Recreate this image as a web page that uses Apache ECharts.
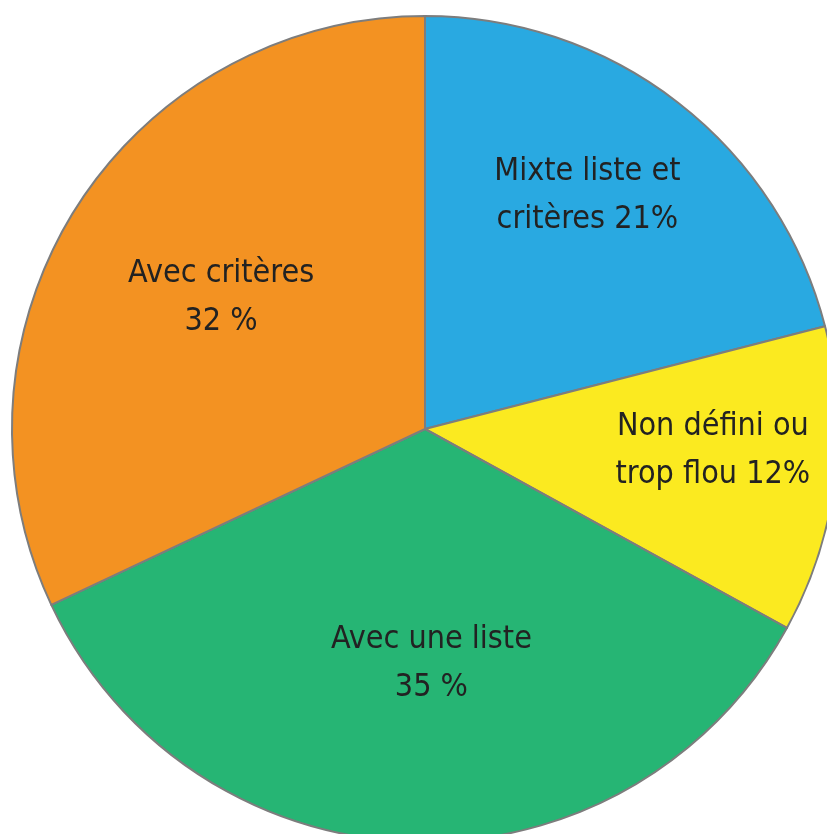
<!DOCTYPE html>
<html>
<head>
<meta charset="utf-8">
<script src="https://cdn.jsdelivr.net/npm/echarts@6/dist/echarts.min.js"></script>
<style>
  html, body { margin: 0; padding: 0; background: #ffffff; }
  #chart { width: 827px; height: 834px; }
</style>
</head>
<body>
<div id="chart"></div>
<script>
// données du camembert (sens horaire à partir de midi)
var categories = ['Mixte liste et\ncritères 21%', 'Non défini ou\ntrop flou 12%', 'Avec une liste\n35 %', 'Avec critères\n32 %'];
var values = [21, 12, 35, 32];
var colors = ['#29A9E1', '#FBEA20', '#26B574', '#F39222'];

// décalage des étiquettes par rapport à la position "inside"
var labelShift = [[34, -68], [80, -5], [13, 25], [-27, -19]];

var myChart = echarts.init(document.getElementById('chart'));

var pieData = [];
for (var i = 0; i < values.length; i++) {
    pieData.push({ name: categories[i], value: values[i], itemStyle: { color: colors[i] } });
}

var option = {
    animation: false,
    backgroundColor: '#ffffff',
    series: [
        {
            type: 'pie',
            radius: 413,
            center: [425, 429],
            startAngle: 90,
            clockwise: true,
            silent: true,
            itemStyle: {
                borderColor: '#7d7d7d',
                borderWidth: 2
            },
            label: {
                show: true,
                position: 'inside',
                formatter: '{b}',
                color: '#222222',
                fontFamily: '"DejaVu Sans Condensed", "Liberation Sans", sans-serif',
                fontWeight: 'normal',
                fontSize: 32,
                lineHeight: 48,
                align: 'center'
            },
            labelLayout: function (params) {
                var o = labelShift[params.dataIndex];
                return { dx: o[0], dy: o[1] };
            },
            data: pieData
        }
    ]
};

myChart.setOption(option, true);
</script>
</body>
</html>
